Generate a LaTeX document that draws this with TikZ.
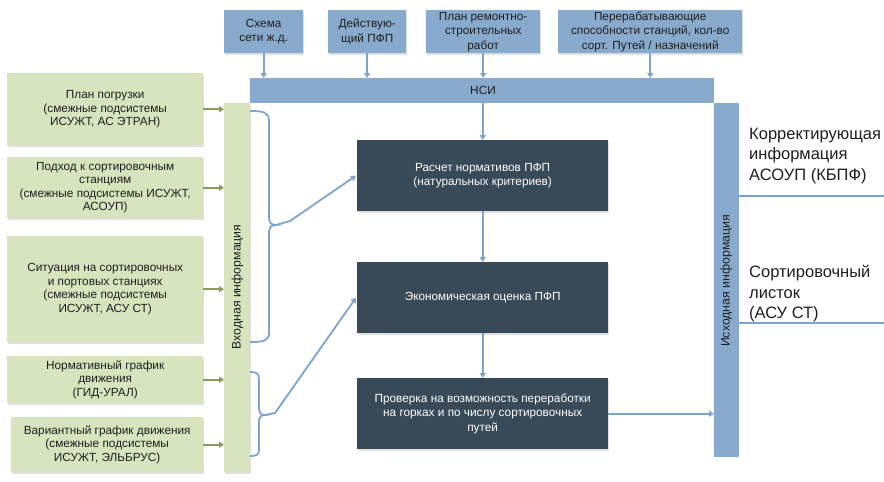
\documentclass[tikz,border=0pt]{standalone}
\usepackage{fontspec}
\setmainfont{Liberation Sans}
\usetikzlibrary{arrows.meta,shadows}
\definecolor{nsiblue}{RGB}{136,170,204}
\definecolor{lineblue}{RGB}{124,164,206}
\definecolor{inggreen}{RGB}{215,228,190}
\definecolor{arrgreen}{RGB}{140,155,94}
\definecolor{darkbox}{RGB}{56,73,87}
\definecolor{txt}{RGB}{30,30,30}
\begin{document}
\begin{tikzpicture}[x=1pt,y=-1pt,
  sh/.style={drop shadow={opacity=0.25,shadow xshift=1.2pt,shadow yshift=-1.5pt}},
  topbox/.style={anchor=north west,fill=nsiblue,sh,inner sep=0pt,align=center,text=txt,
     font=\fontsize{11.8}{14.5}\selectfont},
  greenbox/.style={anchor=north west,fill=inggreen,sh,inner sep=0pt,align=center,text=txt,
     minimum width=196pt,font=\fontsize{11.8}{13.5}\selectfont},
  darkbx/.style={anchor=north west,fill=darkbox,sh,inner sep=0pt,align=center,text=white,
     minimum width=251pt,minimum height=71pt,font=\fontsize{11.8}{14.5}\selectfont},
  barbox/.style={anchor=north west,fill=nsiblue,inner sep=0pt},
  bararrow/.style={draw=lineblue,line width=1.8pt,-{Triangle[length=5pt,width=6pt]}},
  garrow/.style={draw=arrgreen,line width=1.8pt,-{Triangle[length=5pt,width=6pt]}},
  brace/.style={draw=lineblue,line width=1.8pt},
  vtxt/.style={rotate=90,text=txt,font=\fontsize{12.3}{14}\selectfont},
  bigtxt/.style={anchor=west,inner sep=0pt,align=left,text=txt,font=\fontsize{16.5}{20.5}\selectfont}
]
\useasboundingbox (0,0) rectangle (884,482);

% top boxes
\node[topbox,minimum width=79pt,minimum height=43pt] (s1) at (224,10) {Схема\\сети ж.д.};
\node[topbox,minimum width=78pt,minimum height=43pt] (s2) at (328,10) {Действую-\\щий ПФП};
\node[topbox,minimum width=114pt,minimum height=43pt] (s3) at (426,10) {План ремонтно-\\строительных\\работ};
\node[topbox,minimum width=184pt,minimum height=43pt] (s4) at (558,10) {Перерабатывающие\\способности станций, кол-во\\сорт. Путей / назначений};

% bars
\node[barbox,minimum width=464pt,minimum height=25pt] (nsi) at (250,78) {};
\node[text=txt,font=\fontsize{11.8}{13}\selectfont] (nsitxt) at (483,90.5) {НСИ};
\node[barbox,minimum width=25pt,minimum height=354pt] (rbar) at (714,103) {};
\node[anchor=north west,fill=inggreen,sh,inner sep=0pt,minimum width=26pt,minimum height=369pt] (lbar) at (224,103) {};
\node[vtxt] (ltxt) at (237.5,287) {Входная информация};
\node[vtxt] (rtxt) at (726.5,281) {Исходная информация};

% green boxes
\node[greenbox,minimum height=72pt] (g1) at (7,73) {План погрузки\\(смежные подсистемы\\ИСУЖТ, АС ЭТРАН)};
\node[greenbox,minimum height=61pt] (g2) at (7,157) {Подход к сортировочным\\станциям\\(смежные подсистемы ИСУЖТ,\\АСОУП)};
\node[greenbox,minimum height=106pt] (g3) at (7,236) {Ситуация на сортировочных\\и портовых станциях\\(смежные подсистемы\\ИСУЖТ, АСУ СТ)};
\node[greenbox,minimum height=47pt] (g4) at (7,356) {Нормативный график\\движения\\(ГИД-УРАЛ)};
\node[greenbox,minimum width=192pt,minimum height=55pt] (g5) at (11,417) {Вариантный график движения\\(смежные подсистемы\\ИСУЖТ, ЭЛЬБРУС)};

% dark boxes
\node[darkbx] (d1) at (357,140) {Расчет нормативов ПФП\\(натуральных критериев)};
\node[darkbx] (d2) at (357,262) {Экономическая оценка ПФП};
\node[darkbx] (d3) at (357,378) {Проверка на возможность переработки\\на горках и по числу сортировочных\\путей};

% right texts
\node[bigtxt] (t1) at (749,156) {Корректирующая\\информация\\АСОУП (КБПФ)};
\node[bigtxt] (t2) at (749,294) {Сортировочный\\листок\\(АСУ СТ)};
\coordinate (e1) at (884,196);
\coordinate (e2) at (884,323);
\draw[brace] (e1 -| rbar.east) -- (e1);
\draw[brace] (e2 -| rbar.east) -- (e2);

% top arrows
\foreach \n in {s1,s2,s3,s4}{
  \draw[bararrow] (\n.south) -- (\n.south |- nsi.north);
}
% green arrows
\foreach \n in {g1,g2,g3,g4,g5}{
  \draw[garrow] (\n.east) -- (\n.east -| lbar.west);
}
% vertical flow
\draw[bararrow] (d1.north |- nsi.south) -- (d1.north);
\draw[bararrow] (d1.south) -- (d2.north);
\draw[bararrow] (d2.south) -- (d3.north);
\draw[bararrow] (d3.east) -- (d3.east -| rbar.west);

% braces
\coordinate (b1) at (276,225);
\coordinate (b2) at (265,415);
\draw[brace] (250,111) .. controls (263,111) and (269,112) .. (269,121) -- (269,216)
   .. controls (269,223) and (271,225) .. (b1)
   .. controls (271,225) and (269,227) .. (269,234) -- (269,333)
   .. controls (269,341) and (263,342) .. (250,342);
\draw[bararrow] (b1) -- (290,221) -- ([xshift=-1pt]d1.west);
\draw[brace] (250,372) .. controls (256,372) and (259,373) .. (259,379) -- (259,408)
   .. controls (259,413) and (261,415) .. (b2)
   .. controls (261,415) and (259,417) .. (259,422) -- (259,450)
   .. controls (259,455) and (256,456) .. (250,456);
\draw[bararrow] (b2) -- (275,413) -- ([xshift=-1pt]d2.west);
\end{tikzpicture}
\end{document}
